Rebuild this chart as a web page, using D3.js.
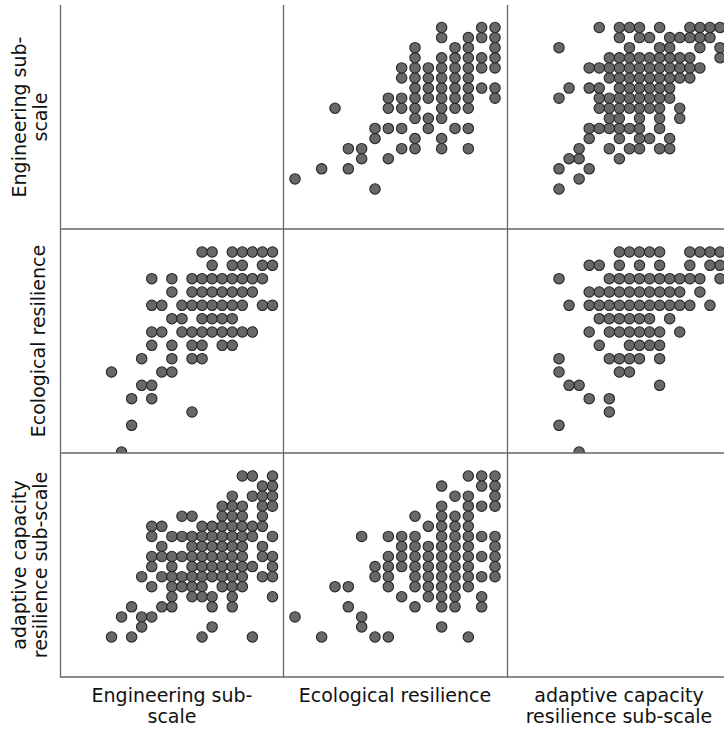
<!DOCTYPE html>
<html><head><meta charset="utf-8">
<script src="https://cdn.jsdelivr.net/npm/d3@7"></script>
<style>body{margin:0;background:#fff;} svg{display:block;}</style>
</head><body>
<svg id="chart" width="724" height="731"></svg>
<script>
// ---------------- data ----------------
const variableNames = ["Engineering sub-scale", "Ecological resilience", "adaptive capacity resilience sub-scale"];
const variableLabelLines = [["Engineering sub-", "scale"], ["Ecological resilience"], ["adaptive capacity", "resilience sub-scale"]];
const levelDomains = [[0, 16], [0, 15], [0, 16]];

// [engineering, ecological]
const engEco = [
  [9,15],[10,15],[12,15],[13,15],[14,15],[15,15],[16,15],
  [10,14],[12,14],[13,14],[15,14],[16,14],
  [4,13],[6,13],[8,13],[9,13],[10,13],[11,13],[12,13],[13,13],[14,13],[15,13],
  [6,12],[8,12],[9,12],[10,12],[11,12],[12,12],[13,12],[14,12],
  [4,11],[5,11],[7,11],[8,11],[9,11],[10,11],[11,11],[12,11],[13,11],[15,11],[16,11],
  [6,10],[7,10],[9,10],[10,10],[11,10],[12,10],
  [4,9],[5,9],[7,9],[8,9],[9,9],[10,9],[11,9],[12,9],[13,9],[14,9],
  [4,8],[6,8],[8,8],[9,8],[11,8],[12,8],
  [3,7],[6,7],[8,7],[9,7],
  [0,6],[5,6],[6,6],
  [3,5],[4,5],
  [2,4],[4,4],
  [8,3],
  [2,2],
  [1,0]
];

// [engineering, adaptive]
const engAda = [
  [13,16],[14,16],[16,16],
  [15,15],[16,15],
  [12,14],[14,14],[15,14],[16,14],
  [11,13],[12,13],[13,13],[15,13],[16,13],
  [7,12],[8,12],[11,12],[12,12],[13,12],[15,12],
  [4,11],[5,11],[9,11],[10,11],[11,11],[12,11],[13,11],[14,11],[15,11],
  [4,10],[6,10],[7,10],[8,10],[9,10],[10,10],[11,10],[12,10],[13,10],[14,10],[16,10],
  [5,9],[8,9],[9,9],[10,9],[11,9],[12,9],[13,9],[15,9],
  [4,8],[5,8],[6,8],[7,8],[8,8],[9,8],[10,8],[11,8],[12,8],[13,8],[15,8],[16,8],
  [4,7],[6,7],[8,7],[9,7],[10,7],[11,7],[12,7],[13,7],[14,7],[16,7],
  [3,6],[5,6],[6,6],[7,6],[8,6],[9,6],[10,6],[11,6],[12,6],[13,6],[15,6],[16,6],
  [4,5],[6,5],[7,5],[8,5],[9,5],[11,5],[12,5],[13,5],
  [6,4],[8,4],[9,4],[10,4],[12,4],[16,4],
  [2,3],[5,3],[6,3],[10,3],[12,3],
  [1,2],[3,2],[4,2],
  [3,1],[10,1],
  [0,0],[2,0],[9,0],[14,0]
];

// [ecological, adaptive]
const ecoAda = [
  [0,2],
  [2,0],
  [3,5],
  [4,5],[4,3],
  [5,10],[5,2],[5,1],
  [6,7],[6,6],[6,0],
  [7,10],[7,8],[7,7],[7,6],[7,5],[7,0],
  [8,10],[8,9],[8,8],[8,7],[8,4],
  [9,12],[9,10],[9,9],[9,8],[9,7],[9,6],[9,5],[9,3],
  [10,11],[10,9],[10,8],[10,7],[10,6],[10,5],[10,4],
  [11,15],[11,13],[11,12],[11,11],[11,10],[11,9],[11,8],[11,7],[11,6],[11,5],[11,4],[11,3],[11,1],
  [12,14],[12,12],[12,11],[12,10],[12,9],[12,8],[12,7],[12,6],[12,5],[12,4],[12,3],
  [13,16],[13,14],[13,13],[13,12],[13,11],[13,10],[13,9],[13,8],[13,7],[13,6],[13,5],[13,0],
  [14,16],[14,15],[14,13],[14,10],[14,8],[14,6],[14,4],[14,3],
  [15,16],[15,15],[15,14],[15,13],[15,10],[15,9],[15,8],[15,7],[15,6]
];

// ---------------- layout ----------------
const colEdges = [60.5, 283.5, 507.5], colW = 223;
const rowEdges = [5, 229, 453], rowH = 224;
const xRanges = [[51, 212], [11.5, 211.5], [51.5, 212.5]];
const yRanges = [[184, 22.5], [223, 23], [184, 23]];
const pointR = 5.2;
const fontFamily = "'DejaVu Sans', sans-serif";
const fontSize = 19;
const lineGap = 20.5;

const svg = d3.select("#chart");
const xScales = levelDomains.map((d, i) => d3.scaleLinear().domain(d).range(xRanges[i]));
const yScales = levelDomains.map((d, i) => d3.scaleLinear().domain(d).range(yRanges[i]));

const pairSets = [
  {a: 0, b: 1, data: engEco},
  {a: 0, b: 2, data: engAda},
  {a: 1, b: 2, data: ecoAda}
];
const panels = [];
pairSets.forEach(p => {
  panels.push({row: p.a, col: p.b, pts: p.data.map(d => ({x: d[1], y: d[0]}))});
  panels.push({row: p.b, col: p.a, pts: p.data.map(d => ({x: d[0], y: d[1]}))});
});

const defs = svg.append("defs");
panels.forEach((p, k) => {
  defs.append("clipPath").attr("id", "clip" + k)
    .append("rect").attr("x", 0).attr("y", 0).attr("width", colW).attr("height", rowH);
  const g = svg.append("g")
    .attr("transform", `translate(${colEdges[p.col]},${rowEdges[p.row]})`)
    .attr("clip-path", `url(#clip${k})`);
  const xs = xScales[p.col], ys = yScales[p.row];
  g.selectAll("circle").data(p.pts).join("circle")
    .attr("cx", d => xs(d.x))
    .attr("cy", d => ys(d.y))
    .attr("r", pointR)
    .attr("fill", "#686868")
    .attr("stroke", "#262626")
    .attr("stroke-width", 1.1);
});

// frame lines
const lineColor = "#666";
colEdges.forEach(x => {
  svg.append("line").attr("x1", x).attr("x2", x).attr("y1", 5).attr("y2", 677.5)
    .attr("stroke", lineColor).attr("stroke-width", 1.3);
});
[229, 453, 677].forEach(y => {
  svg.append("line").attr("x1", 60).attr("x2", 724).attr("y1", y).attr("y2", y)
    .attr("stroke", lineColor).attr("stroke-width", 1.3);
});

// bottom labels
variableLabelLines.forEach((lines, i) => {
  const cx = colEdges[i] + colW / 2;
  lines.forEach((t, j) => {
    svg.append("text").attr("x", cx).attr("y", 702 + j * lineGap)
      .attr("text-anchor", "middle")
      .attr("font-family", fontFamily).attr("font-size", fontSize)
      .attr("fill", "#111").text(t);
  });
});

// left labels (rotated)
variableLabelLines.forEach((lines, i) => {
  const cy = rowEdges[i] + rowH / 2;
  const n = lines.length;
  lines.forEach((t, j) => {
    const bx = n === 1 ? 45 : 26 + j * lineGap;
    svg.append("text")
      .attr("transform", `translate(${bx},${cy}) rotate(-90)`)
      .attr("text-anchor", "middle")
      .attr("font-family", fontFamily).attr("font-size", fontSize)
      .attr("fill", "#111").text(t);
  });
});
</script>
</body></html>
